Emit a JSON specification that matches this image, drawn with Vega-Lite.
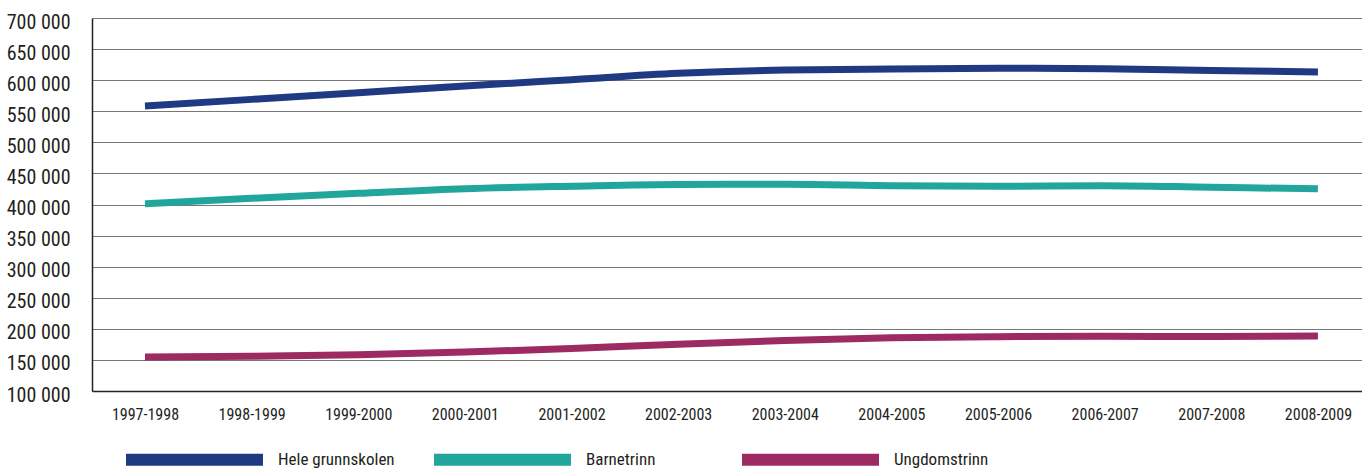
{
  "$schema": "https://vega.github.io/schema/vega-lite/v6.json",
  "autosize": "none",
  "width": 1270,
  "height": 373,
  "padding": {"left": 92, "top": 18, "right": 0, "bottom": 77},
  "background": "white",
  "data": {
    "values": [
      {"skoleaar": "1997-1998", "gruppe": "Hele grunnskolen", "elever": 558400},
      {"skoleaar": "1998-1999", "gruppe": "Hele grunnskolen", "elever": 569100},
      {"skoleaar": "1999-2000", "gruppe": "Hele grunnskolen", "elever": 579800},
      {"skoleaar": "2000-2001", "gruppe": "Hele grunnskolen", "elever": 590600},
      {"skoleaar": "2001-2002", "gruppe": "Hele grunnskolen", "elever": 600800},
      {"skoleaar": "2002-2003", "gruppe": "Hele grunnskolen", "elever": 611000},
      {"skoleaar": "2003-2004", "gruppe": "Hele grunnskolen", "elever": 616400},
      {"skoleaar": "2004-2005", "gruppe": "Hele grunnskolen", "elever": 618000},
      {"skoleaar": "2005-2006", "gruppe": "Hele grunnskolen", "elever": 619100},
      {"skoleaar": "2006-2007", "gruppe": "Hele grunnskolen", "elever": 618200},
      {"skoleaar": "2007-2008", "gruppe": "Hele grunnskolen", "elever": 615400},
      {"skoleaar": "2008-2009", "gruppe": "Hele grunnskolen", "elever": 613300},
      {"skoleaar": "1997-1998", "gruppe": "Barnetrinn", "elever": 401000},
      {"skoleaar": "1998-1999", "gruppe": "Barnetrinn", "elever": 410000},
      {"skoleaar": "1999-2000", "gruppe": "Barnetrinn", "elever": 418000},
      {"skoleaar": "2000-2001", "gruppe": "Barnetrinn", "elever": 425500},
      {"skoleaar": "2001-2002", "gruppe": "Barnetrinn", "elever": 429500},
      {"skoleaar": "2002-2003", "gruppe": "Barnetrinn", "elever": 432300},
      {"skoleaar": "2003-2004", "gruppe": "Barnetrinn", "elever": 432400},
      {"skoleaar": "2004-2005", "gruppe": "Barnetrinn", "elever": 430200},
      {"skoleaar": "2005-2006", "gruppe": "Barnetrinn", "elever": 429300},
      {"skoleaar": "2006-2007", "gruppe": "Barnetrinn", "elever": 430300},
      {"skoleaar": "2007-2008", "gruppe": "Barnetrinn", "elever": 427700},
      {"skoleaar": "2008-2009", "gruppe": "Barnetrinn", "elever": 425300},
      {"skoleaar": "1997-1998", "gruppe": "Ungdomstrinn", "elever": 154800},
      {"skoleaar": "1998-1999", "gruppe": "Ungdomstrinn", "elever": 155800},
      {"skoleaar": "1999-2000", "gruppe": "Ungdomstrinn", "elever": 158400},
      {"skoleaar": "2000-2001", "gruppe": "Ungdomstrinn", "elever": 162600},
      {"skoleaar": "2001-2002", "gruppe": "Ungdomstrinn", "elever": 168300},
      {"skoleaar": "2002-2003", "gruppe": "Ungdomstrinn", "elever": 175300},
      {"skoleaar": "2003-2004", "gruppe": "Ungdomstrinn", "elever": 181200},
      {"skoleaar": "2004-2005", "gruppe": "Ungdomstrinn", "elever": 185600},
      {"skoleaar": "2005-2006", "gruppe": "Ungdomstrinn", "elever": 187400},
      {"skoleaar": "2006-2007", "gruppe": "Ungdomstrinn", "elever": 188000},
      {"skoleaar": "2007-2008", "gruppe": "Ungdomstrinn", "elever": 187700},
      {"skoleaar": "2008-2009", "gruppe": "Ungdomstrinn", "elever": 188300}
    ]
  },
  "mark": {"type": "line", "strokeWidth": 7, "interpolate": "monotone", "strokeCap": "butt"},
  "encoding": {
    "x": {
      "field": "skoleaar",
      "type": "ordinal",
      "sort": null,
      "scale": {"type": "point", "padding": 0.455, "align": 0.546},
      "axis": {
        "title": null,
        "labelAngle": 0,
        "ticks": false,
        "grid": false,
        "domain": true,
        "domainColor": "#222222",
        "domainWidth": 1.5,
        "labelFont": "Roboto Condensed, DejaVu Sans Condensed, sans-serif",
        "labelFontSize": 16,
        "labelColor": "#231f20",
        "labelPadding": 15,
        "labelBaseline": "top"
      }
    },
    "y": {
      "field": "elever",
      "type": "quantitative",
      "scale": {"domain": [100000, 700000], "nice": false, "zero": false},
      "axis": {
        "title": null,
        "values": [100000, 150000, 200000, 250000, 300000, 350000, 400000, 450000, 500000, 550000, 600000, 650000, 700000],
        "labelExpr": "replace(format(datum.value, ',d'), ',', ' ')",
        "ticks": false,
        "grid": true,
        "gridColor": "#777777",
        "gridWidth": 1,
        "domain": true,
        "domainColor": "#222222",
        "domainWidth": 1.5,
        "labelFont": "Roboto Condensed, DejaVu Sans Condensed, sans-serif",
        "labelFontSize": 20,
        "labelColor": "#231f20",
        "labelPadding": 22,
        "labelOffset": 4,
        "labelBound": false,
        "labelFlush": false,
        "labelOverlap": false
      }
    },
    "color": {
      "field": "gruppe",
      "type": "nominal",
      "scale": {
        "domain": ["Hele grunnskolen", "Barnetrinn", "Ungdomstrinn"],
        "range": ["#1f3a82", "#22a69c", "#9e2a63"]
      },
      "legend": {
        "title": null,
        "orient": "none",
        "direction": "horizontal",
        "legendX": 28,
        "legendY": 367,
        "symbolType": "stroke",
        "symbolSize": 18769,
        "symbolStrokeWidth": 12,
        "symbolOpacity": 1,
        "labelFont": "Roboto Condensed, DejaVu Sans Condensed, sans-serif",
        "labelFontSize": 17,
        "labelColor": "#231f20",
        "labelOffset": 9,
        "columnPadding": 15,
        "gridAlign": "all",
        "padding": 0
      }
    }
  },
  "config": {
    "view": {"stroke": null}
  }
}
